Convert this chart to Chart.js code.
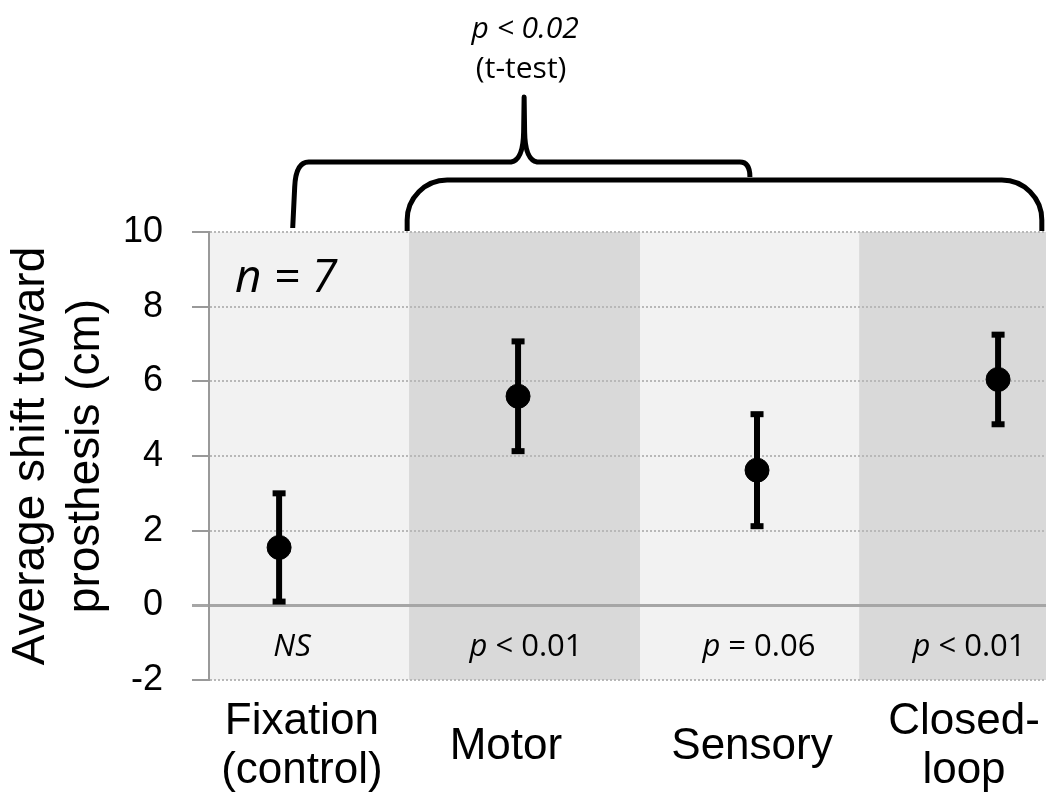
<!DOCTYPE html>
<html>
<head>
<meta charset="utf-8">
<script src="https://cdn.jsdelivr.net/npm/chart.js@4/dist/chart.umd.min.js"></script>
<style>
    html, body { margin: 0; padding: 0; background: #fff; overflow: hidden; }
    #wrap { width: 1046px; height: 798px; }
</style>
</head>
<body>
<div id="wrap"><canvas id="chart"></canvas></div>
<script>
// data
const categories = [['Fixation', '(control)'], 'Motor', 'Sensory', ['Closed-', 'loop']]
const means = [1.55, 5.6, 3.62, 6.05]
const errors = [1.45, 1.47, 1.5, 1.2]
const pValues = ['NS', 'p < 0.01', 'p = 0.06', 'p < 0.01']
const yTicks = [-2, 0, 2, 4, 6, 8, 10]
const sampleSize = 7
const groupTest = ['p < 0.02', '(t-test)']

// where things sit along the x axis (axis runs 0..4)
const bandEdges = [0, 0.956, 2.06, 3.107, 4]
const pointX = [0.335, 1.477, 2.619, 3.771]
const labelX = [0.444, 1.419, 2.595, 3.608]
const pLabelX = [0.397, 1.515, 2.628, 3.632]
const leftBracket = [0.40, 1.506, 2.585]
const rightBracket = [0.947, 3.98]

const SANS = '"Liberation Sans", Arial, sans-serif'
const CAL = '"Open Sans", sans-serif'

function drawMixed(ctx, parts, cx, baseline) {
    let total = 0
    parts.forEach(p => { ctx.font = p[1]; total += ctx.measureText(p[0]).width })
    let x = cx - total / 2
    ctx.textAlign = 'left'
    ctx.textBaseline = 'alphabetic'
    parts.forEach(p => {
        ctx.font = p[1]
        ctx.fillText(p[0], x, baseline)
        x += ctx.measureText(p[0]).width
    })
}

const bandsPlugin = {
    id: 'bands',
    beforeDraw(chart) {
        const {ctx, chartArea: a, scales: {x}} = chart
        ctx.save()
        for (let i = 0; i < bandEdges.length - 1; i++) {
            const x0 = x.getPixelForValue(bandEdges[i])
            const x1 = x.getPixelForValue(bandEdges[i + 1])
            ctx.fillStyle = i % 2 ? '#d9d9d9' : '#f2f2f2'
            ctx.fillRect(x0, a.top, x1 - x0, a.bottom - a.top)
        }
        ctx.restore()
    }
}

const errorBarsPlugin = {
    id: 'errorBars',
    beforeDatasetsDraw(chart) {
        const {ctx, scales: {x, y}} = chart
        ctx.save()
        ctx.strokeStyle = '#000'
        ctx.fillStyle = '#000'
        ctx.lineWidth = 6
        means.forEach((m, i) => {
            const px = x.getPixelForValue(pointX[i])
            const yt = y.getPixelForValue(m + errors[i])
            const yb = y.getPixelForValue(m - errors[i])
            ctx.beginPath()
            ctx.moveTo(px, yt)
            ctx.lineTo(px, yb)
            ctx.stroke()
            ctx.fillRect(px - 6.5, yt - 3, 13, 6)
            ctx.fillRect(px - 6.5, yb - 3, 13, 6)
        })
        ctx.restore()
    }
}

const notesPlugin = {
    id: 'notes',
    afterDraw(chart) {
        const {ctx, chartArea: a, scales: {x, y}} = chart
        ctx.save()
        ctx.fillStyle = '#000'

        // p values inside the bands
        pValues.forEach((t, i) => {
            const cx = x.getPixelForValue(pLabelX[i])
            const base = y.getPixelForValue(-1.35)
            const parts = t.startsWith('p ')
                ? [['p', `italic 31px ${CAL}`], [t.slice(1), `31px ${CAL}`]]
                : [[t, `italic 31px ${CAL}`]]
            drawMixed(ctx, parts, cx, base)
        })

        // n = 7
        ctx.font = `italic 46px ${CAL}`
        ctx.textAlign = 'left'
        ctx.textBaseline = 'alphabetic'
        ctx.fillText('n = ' + sampleSize, a.left + 26, y.getPixelForValue(8.4))

        // brackets
        ctx.strokeStyle = '#000'
        ctx.lineWidth = 5
        ctx.lineJoin = 'round'
        ctx.lineCap = 'butt'
        const l0 = x.getPixelForValue(leftBracket[0])
        const lc = x.getPixelForValue(leftBracket[1])
        const l1 = x.getPixelForValue(leftBracket[2])
        const hy = a.top - 70
        ctx.beginPath()
        ctx.moveTo(l0, a.top - 4)
        ctx.lineTo(l0 + 2, hy + 25)
        ctx.quadraticCurveTo(l0 + 3, hy, l0 + 16, hy)
        ctx.lineTo(lc - 13, hy)
        ctx.quadraticCurveTo(lc - 1, hy - 2, lc - 0.5, hy - 30)
        ctx.lineTo(lc, a.top - 135)
        ctx.lineTo(lc + 0.5, hy - 30)
        ctx.quadraticCurveTo(lc + 1, hy - 2, lc + 13, hy)
        ctx.lineTo(l1 - 10, hy)
        ctx.quadraticCurveTo(l1, hy, l1, a.top - 55)
        ctx.stroke()

        const r0 = x.getPixelForValue(rightBracket[0])
        const r1 = x.getPixelForValue(rightBracket[1])
        const ry = a.top - 52
        ctx.beginPath()
        ctx.moveTo(r0, a.top - 1)
        ctx.arcTo(r0, ry, r0 + 40, ry, 40)
        ctx.lineTo(r1 - 40, ry)
        ctx.arcTo(r1, ry, r1, a.top, 40)
        ctx.lineTo(r1, a.top - 1)
        ctx.stroke()

        // test label above the cusp
        drawMixed(ctx, [[groupTest[0], `italic 30px ${CAL}`]], lc + 1, a.top - 194)
        drawMixed(ctx, [[groupTest[1], `30px ${CAL}`]], lc - 3, a.top - 154)
        ctx.restore()
    }
}

const isZero = c => c.tick && c.tick.value === 0

new Chart(
    document.getElementById('chart'),
    {
        type: 'scatter',
        data: {
            datasets: [
                {
                    data: means.map((m, i) => ({x: pointX[i], y: m})),
                    backgroundColor: '#000',
                    borderColor: '#000',
                    pointRadius: 12,
                    pointHoverRadius: 12
                }
            ]
        },
        options: {
            responsive: true,
            maintainAspectRatio: false,
            animation: false,
            layout: {
                autoPadding: false,
                padding: {top: 232, left: 0, right: 0, bottom: 0}
            },
            plugins: {
                legend: {display: false},
                tooltip: {enabled: false}
            },
            scales: {
                x: {
                    type: 'linear',
                    min: 0,
                    max: 4,
                    afterBuildTicks: s => { s.ticks = labelX.map(v => ({value: v})) },
                    afterFit: s => {
                        s.height = 118
                        s.paddingLeft = 0
                        s.paddingRight = 0
                    },
                    ticks: {
                        autoSkip: false,
                        maxRotation: 0,
                        minRotation: 0,
                        crossAlign: 'center',
                        padding: 42,
                        color: '#000',
                        font: {family: SANS, size: 44, lineHeight: 1.12},
                        callback: (v, i) => categories[i]
                    },
                    grid: {display: false, drawTicks: false},
                    border: {display: false}
                },
                y: {
                    min: -2,
                    max: 10,
                    afterBuildTicks: s => { s.ticks = yTicks.map(v => ({value: v})) },
                    afterFit: s => { s.width = 209 },
                    ticks: {
                        padding: 29,
                        color: '#000',
                        font: {family: SANS, size: 36}
                    },
                    grid: {
                        color: c => isZero(c) ? '#a6a6a6' : '#b8b8b8',
                        lineWidth: c => isZero(c) ? 3 : 2,
                        tickLength: 17,
                        tickColor: c => isZero(c) ? '#a6a6a6' : '#999',
                        tickWidth: c => isZero(c) ? 3 : 2
                    },
                    border: {
                        display: true,
                        color: '#999',
                        width: 2,
                        dash: c => isZero(c) ? [] : [2, 2]
                    },
                    title: {
                        display: true,
                        text: ['Average shift toward', 'prosthesis (cm)'],
                        color: '#000',
                        font: {family: SANS, size: 46, lineHeight: 1.2},
                        padding: {top: 4, bottom: 0}
                    }
                }
            }
        },
        plugins: [bandsPlugin, errorBarsPlugin, notesPlugin]
    }
)
</script>
</body>
</html>
